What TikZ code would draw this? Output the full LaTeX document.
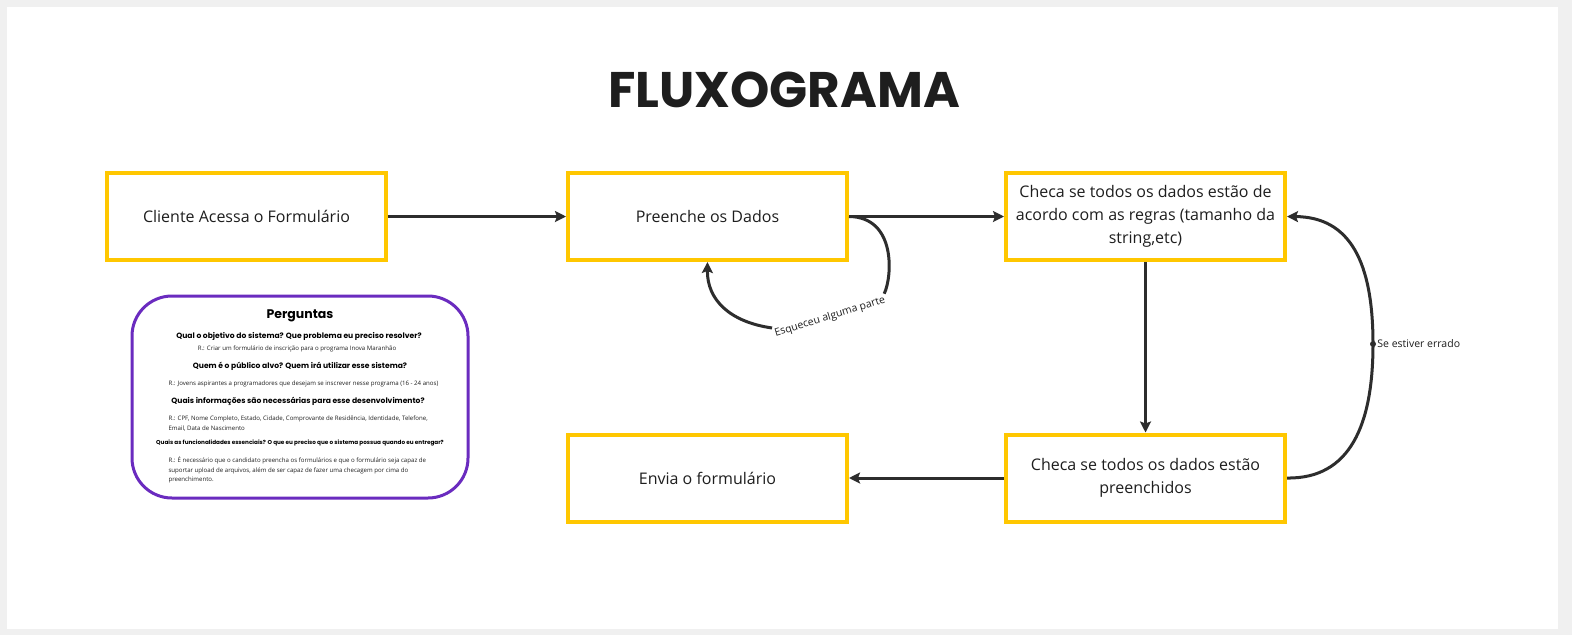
\documentclass[tikz,border=0pt]{standalone}
\usepackage{fontspec}
\usepackage{xcolor}
\usepackage{tikz}
\usetikzlibrary{arrows.meta}
\setmainfont{Open Sans}
\newfontfamily\poppins{Poppins}
\definecolor{fxyellow}{HTML}{FFC700}
\definecolor{fxpurple}{HTML}{6A2BBF}
\definecolor{fxdark}{HTML}{2D2D2D}
\definecolor{fxgrey}{HTML}{F0F0F0}
\definecolor{fxtext}{HTML}{1E1E1E}

\begin{document}
\begin{tikzpicture}[x=1pt, y=-1pt,
  stepbox/.style={draw=fxyellow, line width=4pt, minimum width=279pt, minimum height=87pt,
    align=center, text=fxtext, font=\fontsize{16}{23}\selectfont},
  flow/.style={draw=fxdark, line width=3pt, -{Stealth[length=11pt, width=11pt, inset=2pt]}},
  qtitle/.style={font=\poppins\bfseries\fontsize{7.6}{9}\selectfont, text=black},
  qanswer/.style={font=\fontsize{6.1}{9.8}\selectfont, text=fxtext, align=left}]
\useasboundingbox (0,0) rectangle (1572,635);
\fill[fxgrey] (0,0) rectangle (1572,635);
\fill[white] (7,7) rectangle (1558,629);

\node[font=\poppins\bfseries\fontsize{50}{50}\selectfont, text=fxtext] (title) at (784,90) {FLUXOGRAMA};

% etapas do fluxo
\node[stepbox] (cliente) at (246.5,216.5) {Cliente Acessa o Formulário};
\node[stepbox] (preenche) at (707.5,216.5) {Preenche os Dados};
\node[stepbox] (regras) at (1145.5,216.5) {Checa se todos os dados estão de\\acordo com as regras (tamanho da\\string,etc)};
\node[stepbox] (envia) at (707.5,478) {Envia o formulário};
\node[stepbox] (completo) at (1145.5,478) {Checa se todos os dados estão\\preenchidos};

\draw[flow] (cliente) -- (preenche);
\draw[flow] (preenche) -- (regras);
\draw[flow] (regras) -- (completo);
\draw[flow] (completo) -- (envia);

% volta quando falta algo
\node[rotate=17, font=\fontsize{10.5}{12}\selectfont, text=fxtext, inner sep=1pt] (esqueceu) at (830,317) {Esqueceu alguma parte};
\draw[fxdark, line width=3pt] (preenche.east) .. controls (897,217) and (892,278) .. (esqueceu.north east);
\draw[flow] (esqueceu.north west) .. controls (730,322) and (707,300) .. (preenche.south);

% volta quando errado
\node[circle, fill=fxdark, inner sep=0pt, minimum size=6pt] (errado) at (1373,344) {};
\node[right, font=\fontsize{10.5}{12}\selectfont, text=fxtext, inner sep=1pt] (erradotxt) at (errado.east) {Se estiver errado};
\draw[fxdark, line width=3pt] (completo.east) .. controls (1350,479) and (1373,425) .. (errado.center);
\draw[flow] (errado.center) .. controls (1373,262) and (1350,217) .. (regras.east);

% perguntas
\draw[fxpurple, line width=3pt, fill=white, rounded corners=40pt] (132,296) rectangle (468,498);
\node[font=\poppins\bfseries\fontsize{12.5}{14}\selectfont] (perguntas) at (300,316) {Perguntas};
\node[qtitle] (q1) at (299,336) {Qual o objetivo do sistema? Que problema eu preciso resolver?};
\node[qanswer] (r1) at (297,349) {R.: Criar um formulário de inscrição para o programa Inova Maranhão};
\node[qtitle] (q2) at (300,366) {Quem é o público alvo? Quem irá utilizar esse sistema?};
\node[qanswer, anchor=west] (r2) at (165,384) {R.: Jovens aspirantes a programadores que desejam se inscrever nesse programa (16 - 24 anos)};
\node[qtitle] (q3) at (298,401) {Quais informações são necessárias para esse desenvolvimento?};
\node[qanswer, anchor=north west] (r3) at (165,412) {R.: CPF, Nome Completo, Estado, Cidade, Comprovante de Residência, Identidade, Telefone,\\Email, Data de Nascimento};
\node[qtitle, font=\poppins\bfseries\fontsize{5.7}{7}\selectfont] (q4) at (300,443) {Quais as funcionalidades essenciais? O que eu preciso que o sistema possua quando eu entregar?};
\node[qanswer, anchor=north west] (r4) at (165,453) {R.: É necessário que o candidato preencha os formulários e que o formulário seja capaz de\\suportar upload de arquivos, além de ser capaz de fazer uma checagem por cima do\\preenchimento.};
\end{tikzpicture}
\end{document}
